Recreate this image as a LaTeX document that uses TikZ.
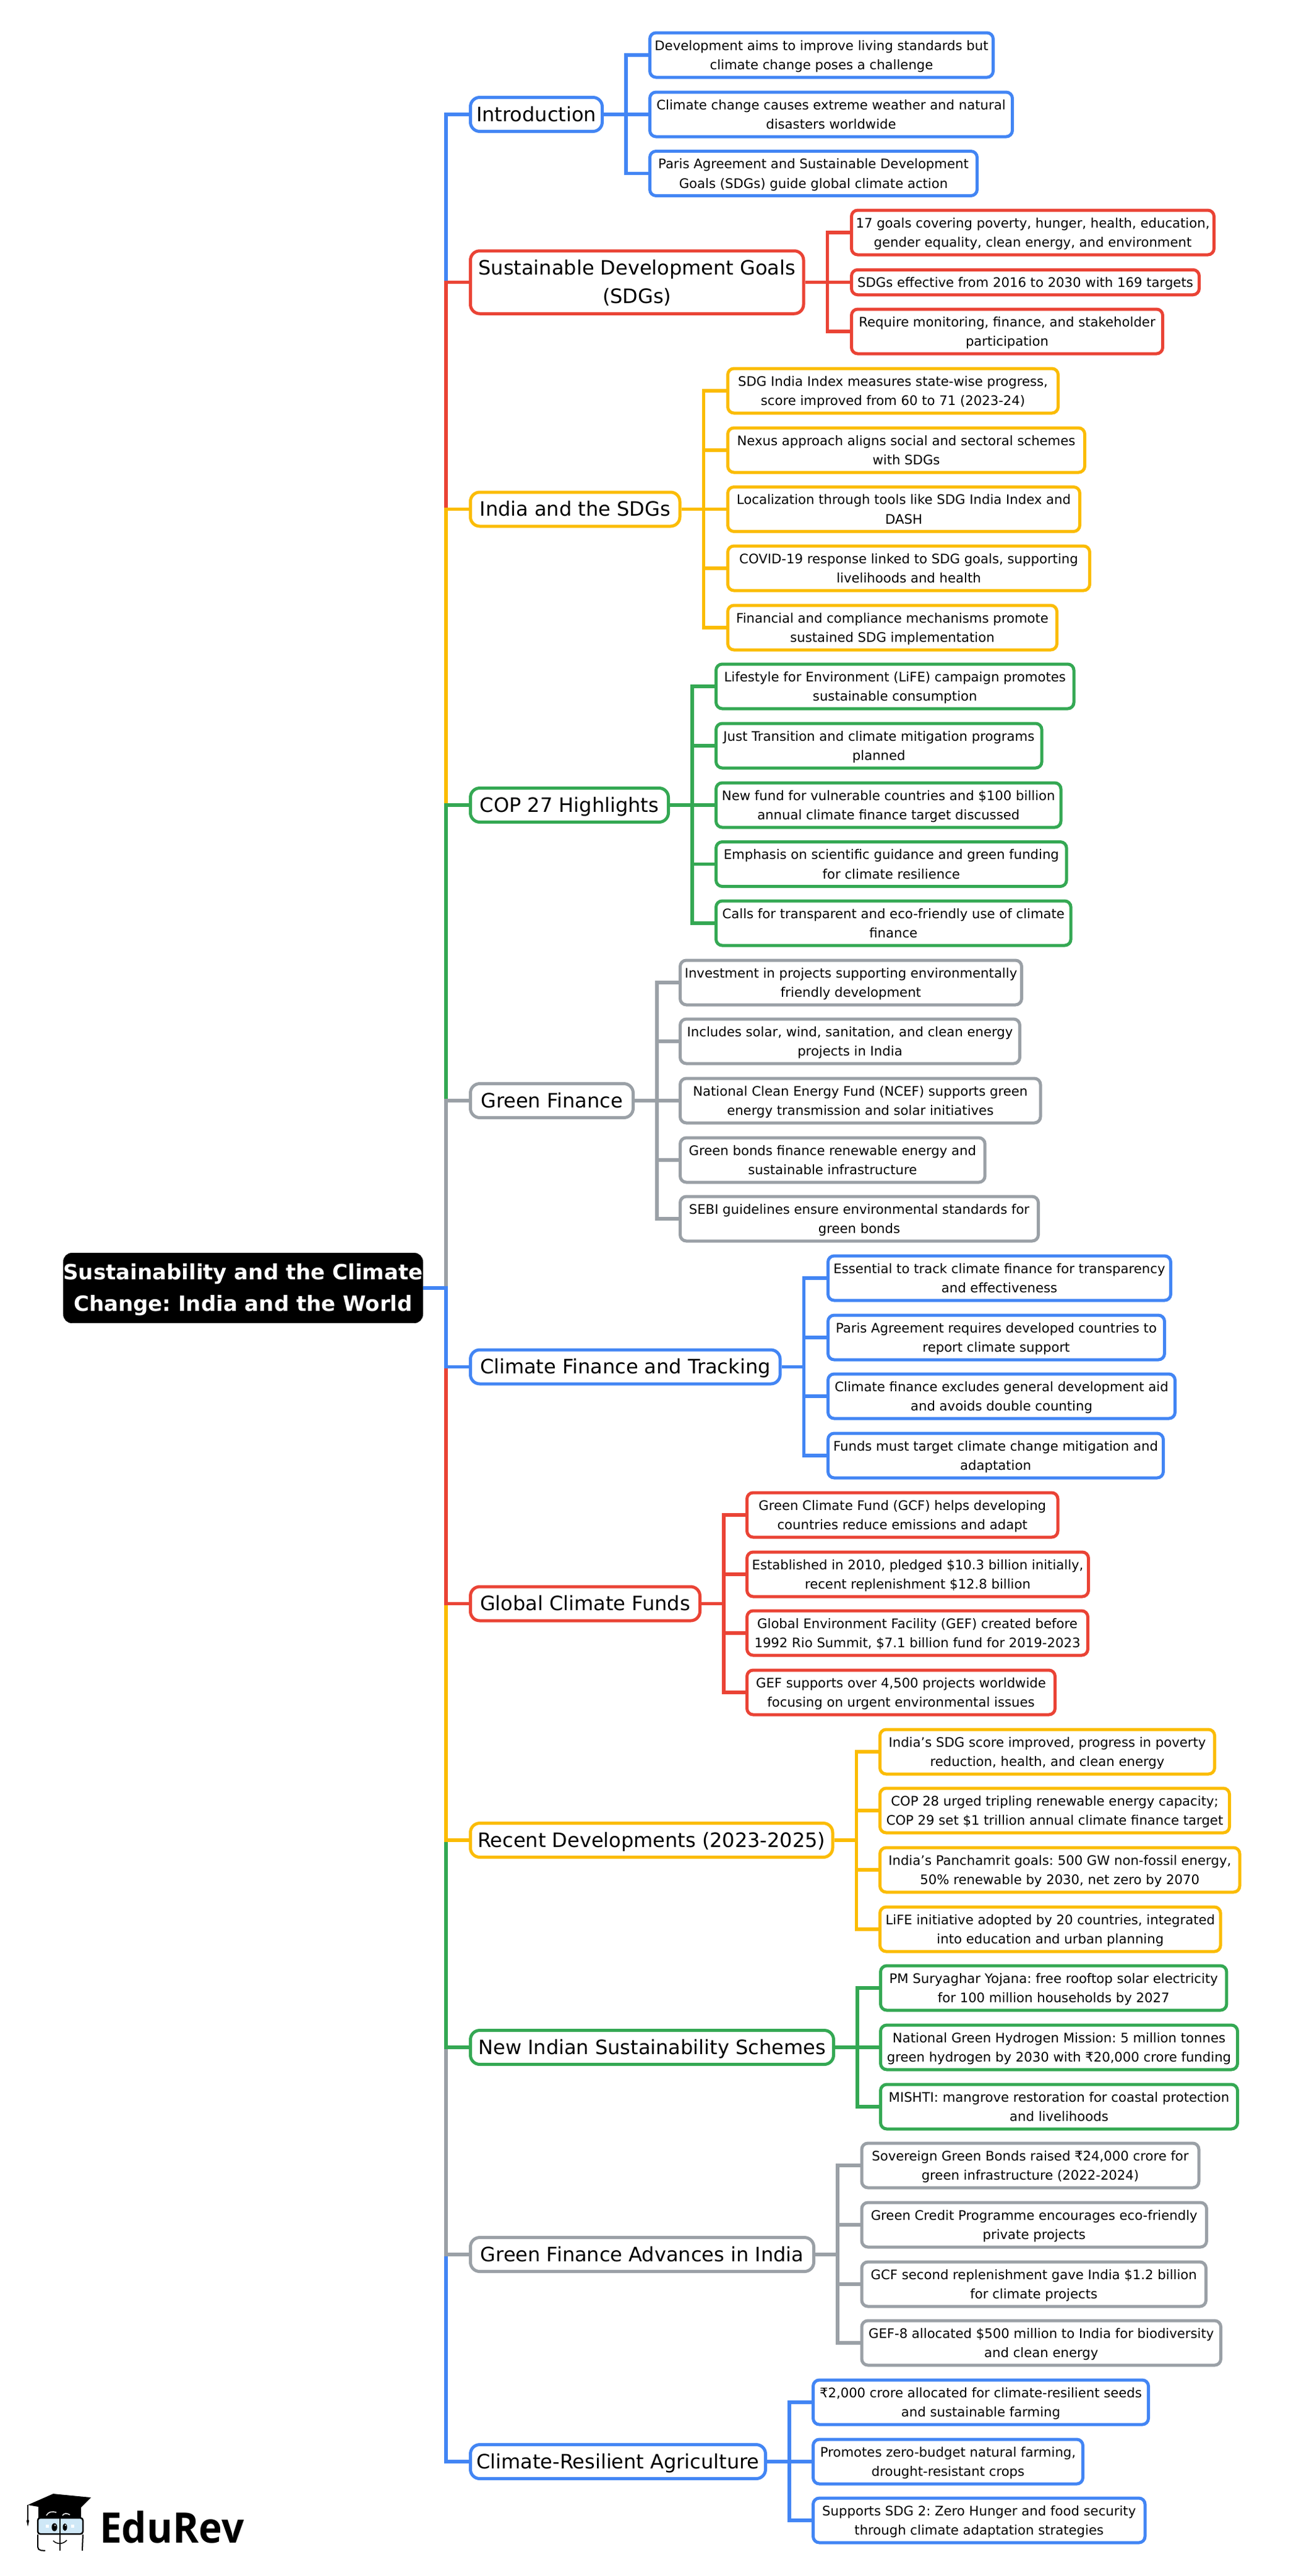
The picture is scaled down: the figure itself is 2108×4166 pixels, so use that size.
\documentclass[tikz,border=0pt]{standalone}
\usepackage{fontspec}
\setmainfont{DejaVu Sans}
\newfontfamily\logofont[FakeStretch=0.94]{Open Sans}
\frenchspacing

\definecolor{mapblue}{HTML}{4285F4}
\definecolor{mapred}{HTML}{EA4335}
\definecolor{mapyellow}{HTML}{FBBC04}
\definecolor{mapgreen}{HTML}{34A853}
\definecolor{mapgrey}{HTML}{9AA0A6}
\definecolor{logosky}{HTML}{CFE8F7}

% one strut per printed line, so that every box gets the same height
\newcommand{\rts}{\rule[-13.35pt]{0pt}{50.7pt}}
\newcommand{\brs}{\rule[-12.25pt]{0pt}{46.5pt}}
\newcommand{\lfs}{\rule[-7.75pt]{0pt}{31.5pt}}

\tikzset{
  rootbox/.style={draw=black, fill=black, text=white, rounded corners=14pt, inner xsep=0pt, inner ysep=6pt,
    align=center, font=\fontsize{34}{50.7}\selectfont\bfseries},
  branchbox/.style={draw=#1, fill=white, line width=5pt, rounded corners=15pt, anchor=west, inner xsep=3pt, inner ysep=4.25pt,
    align=center, font=\fontsize{32}{46.5}\selectfont},
  leafbox/.style={draw=#1, fill=white, line width=5pt, rounded corners=10pt, anchor=west, inner xsep=4pt, inner ysep=4.5pt,
    align=center, font=\fontsize{21.2}{31.5}\selectfont},
  link/.style={draw=#1, line width=5.5pt},
}

\begin{document}
\begin{tikzpicture}[x=1pt, y=-1pt]
  \useasboundingbox (0,0) rectangle (2108,4166);

  \node[rootbox] (root) at (393,2083) {\rts Sustainability and the Climate\\\rts Change: India and the World};
  \coordinate (trunk) at (721,2083);

  % the eleven topics
  \node[branchbox=mapblue, minimum width=213pt] (intro) at (758,185) {\brs Introduction};
  \node[branchbox=mapred, minimum width=538.5pt] (sdg) at (758,456.5) {\brs Sustainable Development Goals\\\brs (SDGs)};
  \node[branchbox=mapyellow, minimum width=338.5pt] (india) at (758,823.5) {\brs India and the SDGs};
  \node[branchbox=mapgreen, minimum width=320pt] (cop) at (758,1302) {\brs COP 27 Highlights};
  \node[branchbox=mapgrey, minimum width=263pt] (gfin) at (758,1780) {\brs Green Finance};
  \node[branchbox=mapblue, minimum width=500.6pt] (cfin) at (758,2210.5) {\brs Climate Finance and Tracking};
  \node[branchbox=mapred, minimum width=371pt] (funds) at (758,2593.5) {\brs Global Climate Funds};
  \node[branchbox=mapyellow, minimum width=585.5pt] (recent) at (758,2976) {\brs Recent Developments (2023-2025)};
  \node[branchbox=mapgreen, minimum width=587pt] (schemes) at (758,3311) {\brs New Indian Sustainability Schemes};
  \node[branchbox=mapgrey, minimum width=555pt] (advances) at (758,3646) {\brs Green Finance Advances in India};
  \node[branchbox=mapblue, minimum width=477pt] (agri) at (758,3981) {\brs Climate-Resilient Agriculture};

  % trunk, painted from the ends towards the root
  \draw[link=mapblue] (root.east) -- (trunk) |- (intro.west);
  \draw[link=mapred] (root.east) -- (trunk) |- (sdg.west);
  \draw[link=mapyellow] (root.east) -- (trunk) |- (india.west);
  \draw[link=mapgreen] (root.east) -- (trunk) |- (cop.west);
  \draw[link=mapgrey] (root.east) -- (trunk) |- (gfin.west);
  \draw[link=mapblue] (root.east) -- (trunk) |- (agri.west);
  \draw[link=mapgrey] (root.east) -- (trunk) |- (advances.west);
  \draw[link=mapgreen] (root.east) -- (trunk) |- (schemes.west);
  \draw[link=mapyellow] (root.east) -- (trunk) |- (recent.west);
  \draw[link=mapred] (root.east) -- (trunk) |- (funds.west);
  \draw[link=mapblue] (root.east) -- (trunk) |- (cfin.west);

  % Introduction
  \node[leafbox=mapblue, minimum width=555pt] (intro1) at (1048,89) {\lfs Development aims to improve living standards but\\\lfs climate change poses a challenge};
  \node[leafbox=mapblue, minimum width=586pt] (intro2) at (1048,185) {\lfs Climate change causes extreme weather and natural\\\lfs disasters worldwide};
  \node[leafbox=mapblue, minimum width=529pt] (intro3) at (1048,280.5) {\lfs Paris Agreement and Sustainable Development\\\lfs Goals (SDGs) guide global climate action};
  \draw[link=mapblue] (intro.east) -- ++(36,0) |- (intro1.west);
  \draw[link=mapblue] (intro.east) -- ++(36,0) |- (intro2.west);
  \draw[link=mapblue] (intro.east) -- ++(36,0) |- (intro3.west);

  % SDGs
  \node[leafbox=mapred, minimum width=586pt] (sdg1) at (1374,376) {\lfs 17 goals covering poverty, hunger, health, education,\\\lfs gender equality, clean energy, and environment};
  \node[leafbox=mapred, minimum width=562pt] (sdg2) at (1374,456.5) {\lfs SDGs effective from 2016 to 2030 with 169 targets};
  \node[leafbox=mapred, minimum width=503pt] (sdg3) at (1374,536) {\lfs Require monitoring, finance, and stakeholder\\\lfs participation};
  \draw[link=mapred] (sdg.east) -- ++(36,0) |- (sdg1.west);
  \draw[link=mapred] (sdg.east) -- ++(36,0) |- (sdg2.west);
  \draw[link=mapred] (sdg.east) -- ++(36,0) |- (sdg3.west);

  % India
  \node[leafbox=mapyellow, minimum width=534pt] (india1) at (1174,632) {\lfs SDG India Index measures state-wise progress,\\\lfs score improved from 60 to 71 (2023-24)};
  \node[leafbox=mapyellow, minimum width=577pt] (india2) at (1174,728) {\lfs Nexus approach aligns social and sectoral schemes\\\lfs with SDGs};
  \node[leafbox=mapyellow, minimum width=569pt] (india3) at (1174,823.5) {\lfs Localization through tools like SDG India Index and\\\lfs DASH};
  \node[leafbox=mapyellow, minimum width=585pt] (india4) at (1174,919) {\lfs COVID-19 response linked to SDG goals, supporting\\\lfs livelihoods and health};
  \node[leafbox=mapyellow, minimum width=532pt] (india5) at (1174,1015) {\lfs Financial and compliance mechanisms promote\\\lfs sustained SDG implementation};
  \draw[link=mapyellow] (india.east) -- ++(36,0) |- (india1.west);
  \draw[link=mapyellow] (india.east) -- ++(36,0) |- (india2.west);
  \draw[link=mapyellow] (india.east) -- ++(36,0) |- (india3.west);
  \draw[link=mapyellow] (india.east) -- ++(36,0) |- (india4.west);
  \draw[link=mapyellow] (india.east) -- ++(36,0) |- (india5.west);

  % COP 27
  \node[leafbox=mapgreen, minimum width=578.5pt] (cop1) at (1155,1110) {\lfs Lifestyle for Environment (LiFE) campaign promotes\\\lfs sustainable consumption};
  \node[leafbox=mapgreen, minimum width=526.6pt] (cop2) at (1155,1206) {\lfs Just Transition and climate mitigation programs\\\lfs planned};
  \node[leafbox=mapgreen, minimum width=557.5pt] (cop3) at (1155,1302) {\lfs New fund for vulnerable countries and \$100 billion\\\lfs annual climate finance target discussed};
  \node[leafbox=mapgreen, minimum width=566.6pt] (cop4) at (1155,1397.5) {\lfs Emphasis on scientific guidance and green funding\\\lfs for climate resilience};
  \node[leafbox=mapgreen, minimum width=573.6pt] (cop5) at (1155,1493) {\lfs Calls for transparent and eco-friendly use of climate\\\lfs finance};
  \draw[link=mapgreen] (cop.east) -- ++(36,0) |- (cop1.west);
  \draw[link=mapgreen] (cop.east) -- ++(36,0) |- (cop2.west);
  \draw[link=mapgreen] (cop.east) -- ++(36,0) |- (cop3.west);
  \draw[link=mapgreen] (cop.east) -- ++(36,0) |- (cop4.west);
  \draw[link=mapgreen] (cop.east) -- ++(36,0) |- (cop5.west);

  % Green Finance
  \node[leafbox=mapgrey, minimum width=552pt] (gfin1) at (1097,1589) {\lfs Investment in projects supporting environmentally\\\lfs friendly development};
  \node[leafbox=mapgrey, minimum width=549pt] (gfin2) at (1097,1684) {\lfs Includes solar, wind, sanitation, and clean energy\\\lfs projects in India};
  \node[leafbox=mapgrey, minimum width=582.5pt] (gfin3) at (1097,1780) {\lfs National Clean Energy Fund (NCEF) supports green\\\lfs energy transmission and solar initiatives};
  \node[leafbox=mapgrey, minimum width=492.7pt] (gfin4) at (1097,1876) {\lfs Green bonds finance renewable energy and\\\lfs sustainable infrastructure};
  \node[leafbox=mapgrey, minimum width=579pt] (gfin5) at (1097,1971) {\lfs SEBI guidelines ensure environmental standards for\\\lfs green bonds};
  \draw[link=mapgrey] (gfin.east) -- ++(36,0) |- (gfin1.west);
  \draw[link=mapgrey] (gfin.east) -- ++(36,0) |- (gfin2.west);
  \draw[link=mapgrey] (gfin.east) -- ++(36,0) |- (gfin3.west);
  \draw[link=mapgrey] (gfin.east) -- ++(36,0) |- (gfin4.west);
  \draw[link=mapgrey] (gfin.east) -- ++(36,0) |- (gfin5.west);

  % Climate Finance
  \node[leafbox=mapblue, minimum width=554pt] (cfin1) at (1336,2067) {\lfs Essential to track climate finance for transparency\\\lfs and effectiveness};
  \node[leafbox=mapblue, minimum width=544pt] (cfin2) at (1336,2163) {\lfs Paris Agreement requires developed countries to\\\lfs report climate support};
  \node[leafbox=mapblue, minimum width=561pt] (cfin3) at (1336,2258) {\lfs Climate finance excludes general development aid\\\lfs and avoids double counting};
  \node[leafbox=mapblue, minimum width=542pt] (cfin4) at (1336,2354) {\lfs Funds must target climate change mitigation and\\\lfs adaptation};
  \draw[link=mapblue] (cfin.east) -- ++(36,0) |- (cfin1.west);
  \draw[link=mapblue] (cfin.east) -- ++(36,0) |- (cfin2.west);
  \draw[link=mapblue] (cfin.east) -- ++(36,0) |- (cfin3.west);
  \draw[link=mapblue] (cfin.east) -- ++(36,0) |- (cfin4.west);

  % Funds
  \node[leafbox=mapred, minimum width=502.5pt] (funds1) at (1205,2450) {\lfs Green Climate Fund (GCF) helps developing\\\lfs countries reduce emissions and adapt};
  \node[leafbox=mapred, minimum width=552pt] (funds2) at (1205,2546) {\lfs Established in 2010, pledged \$10.3 billion initially,\\\lfs recent replenishment \$12.8 billion};
  \node[leafbox=mapred, minimum width=551pt] (funds3) at (1205,2641) {\lfs Global Environment Facility (GEF) created before\\\lfs 1992 Rio Summit, \$7.1 billion fund for 2019-2023};
  \node[leafbox=mapred, minimum width=498pt] (funds4) at (1205,2737) {\lfs GEF supports over 4,500 projects worldwide\\\lfs focusing on urgent environmental issues};
  \draw[link=mapred] (funds.east) -- ++(36,0) |- (funds1.west);
  \draw[link=mapred] (funds.east) -- ++(36,0) |- (funds2.west);
  \draw[link=mapred] (funds.east) -- ++(36,0) |- (funds3.west);
  \draw[link=mapred] (funds.east) -- ++(36,0) |- (funds4.west);

  % Recent
  \node[leafbox=mapyellow, minimum width=541pt] (recent1) at (1420,2833) {\lfs India’s SDG score improved, progress in poverty\\\lfs reduction, health, and clean energy};
  \node[leafbox=mapyellow, minimum width=565pt] (recent2) at (1420,2928) {\lfs COP 28 urged tripling renewable energy capacity;\\\lfs COP 29 set \$1 trillion annual climate finance target};
  \node[leafbox=mapyellow, minimum width=581.5pt] (recent3) at (1420,3024) {\lfs India’s Panchamrit goals: 500 GW non-fossil energy,\\\lfs 50\% renewable by 2030, net zero by 2070};
  \node[leafbox=mapyellow, minimum width=550.6pt] (recent4) at (1420,3120) {\lfs LiFE initiative adopted by 20 countries, integrated\\\lfs into education and urban planning};
  \draw[link=mapyellow] (recent.east) -- ++(36,0) |- (recent1.west);
  \draw[link=mapyellow] (recent.east) -- ++(36,0) |- (recent2.west);
  \draw[link=mapyellow] (recent.east) -- ++(36,0) |- (recent3.west);
  \draw[link=mapyellow] (recent.east) -- ++(36,0) |- (recent4.west);

  % Schemes
  \node[leafbox=mapgreen, minimum width=559.4pt] (schemes1) at (1421,3215) {\lfs PM Suryaghar Yojana: free rooftop solar electricity\\\lfs for 100 million households by 2027};
  \node[leafbox=mapgreen, minimum width=577pt] (schemes2) at (1421,3311) {\lfs National Green Hydrogen Mission: 5 million tonnes\\\lfs green hydrogen by 2030 with ₹20,000 crore funding};
  \node[leafbox=mapgreen, minimum width=577pt] (schemes3) at (1421,3407) {\lfs MISHTI: mangrove restoration for coastal protection\\\lfs and livelihoods};
  \draw[link=mapgreen] (schemes.east) -- ++(36,0) |- (schemes1.west);
  \draw[link=mapgreen] (schemes.east) -- ++(36,0) |- (schemes2.west);
  \draw[link=mapgreen] (schemes.east) -- ++(36,0) |- (schemes3.west);

  % Advances
  \node[leafbox=mapgrey, minimum width=545pt] (advances1) at (1390.5,3502) {\lfs Sovereign Green Bonds raised ₹24,000 crore for\\\lfs green infrastructure (2022-2024)};
  \node[leafbox=mapgrey, minimum width=557.5pt] (advances2) at (1390.5,3598) {\lfs Green Credit Programme encourages eco-friendly\\\lfs private projects};
  \node[leafbox=mapgrey, minimum width=556.5pt] (advances3) at (1390.5,3694) {\lfs GCF second replenishment gave India \$1.2 billion\\\lfs for climate projects};
  \node[leafbox=mapgrey, minimum width=580.5pt] (advances4) at (1390.5,3789) {\lfs GEF-8 allocated \$500 million to India for biodiversity\\\lfs and clean energy};
  \draw[link=mapgrey] (advances.east) -- ++(36,0) |- (advances1.west);
  \draw[link=mapgrey] (advances.east) -- ++(36,0) |- (advances2.west);
  \draw[link=mapgrey] (advances.east) -- ++(36,0) |- (advances3.west);
  \draw[link=mapgrey] (advances.east) -- ++(36,0) |- (advances4.west);

  % Agriculture
  \node[leafbox=mapblue, minimum width=542pt] (agri1) at (1312,3885) {\lfs ₹2,000 crore allocated for climate-resilient seeds\\\lfs and sustainable farming};
  \node[leafbox=mapblue, minimum width=436pt] (agri2) at (1312,3981) {\lfs Promotes zero-budget natural farming,\\\lfs drought-resistant crops};
  \node[leafbox=mapblue, minimum width=536.5pt] (agri3) at (1312,4076) {\lfs Supports SDG 2: Zero Hunger and food security\\\lfs through climate adaptation strategies};
  \draw[link=mapblue] (agri.east) -- ++(36,0) |- (agri1.west);
  \draw[link=mapblue] (agri.east) -- ++(36,0) |- (agri2.west);
  \draw[link=mapblue] (agri.east) -- ++(36,0) |- (agri3.west);

  % logo
  \fill[black] (62,4054) rectangle (131,4073);
  \fill[black] (45,4051) -- (86,4033) -- (147,4039) -- (121,4065) -- (62,4054) -- cycle;
  \draw[black, line width=1.5pt] (45,4051) -- (45,4074);
  \fill[black] (45,4072) -- (47,4077) -- (45,4086) -- (43,4077) -- cycle;
  \draw[white, line width=1.5pt] (75,4068) .. controls (78,4062) and (84,4061) .. (91,4063);
  \draw[white, line width=1.5pt] (101,4068) .. controls (104,4064) and (108,4064) .. (113,4067);
  \draw[black, fill=logosky, line width=2.5pt, rounded corners=4pt] (61,4072) rectangle (134,4098);
  \draw[black, line width=2pt, rounded corners=5pt] (73,4125) -- (61,4124) -- (61,4099);
  \draw[black, line width=2pt, rounded corners=5pt] (134,4099) -- (133,4125);
  \draw[black, line width=2pt] (97,4071) -- (97,4125);
  \fill[black] (88,4087) ellipse (4.5pt and 6.5pt);
  \fill[black] (105,4087) ellipse (3.5pt and 6pt);
  \fill[white] (89,4084) circle (1.3pt);
  \fill[white] (106,4084) circle (1.1pt);
  \fill[white] (74,4083) rectangle (79,4088);
  \fill[white] (115,4083) rectangle (120,4088);
  \draw[black, line width=1.5pt] (86,4109) .. controls (92,4115) and (102,4115) .. (108,4108);
  \node[font=\logofont\fontsize{68}{68}\selectfont\bfseries, anchor=base west, inner sep=0pt] (logotext) at (161,4112) {EduRev};
\end{tikzpicture}
\end{document}
